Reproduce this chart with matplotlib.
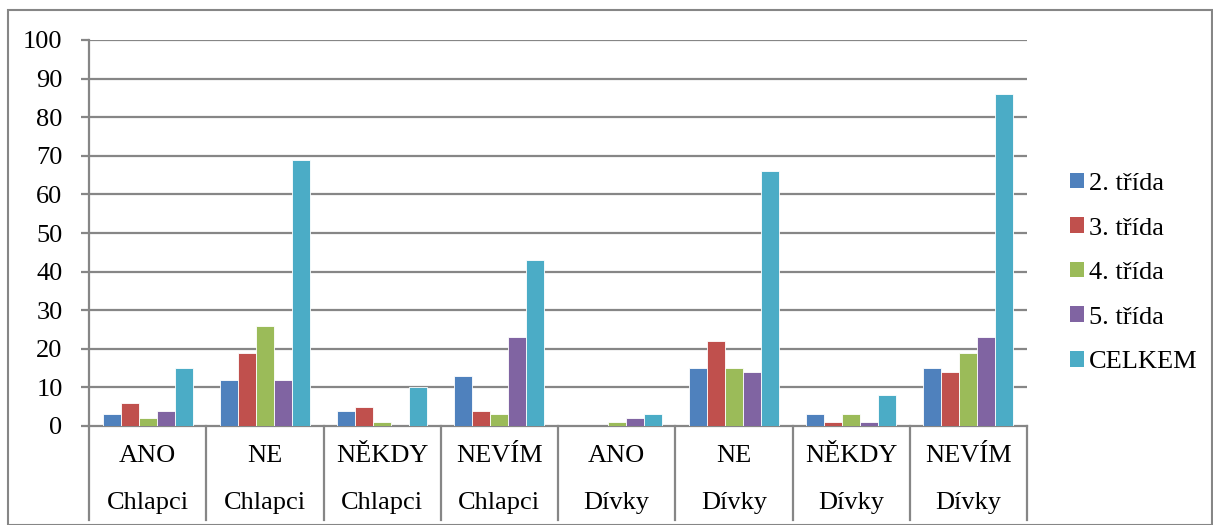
import matplotlib
matplotlib.use("Agg")
import matplotlib.pyplot as plt
from matplotlib.patches import Rectangle, Patch
import matplotlib.transforms as mtransforms

plt.rcParams['font.family'] = ['Liberation Serif', 'DejaVu Serif']

answers = ["ANO", "NE", "NĚKDY", "NEVÍM", "ANO", "NE", "NĚKDY", "NEVÍM"]
groups = ["Chlapci", "Chlapci", "Chlapci", "Chlapci", "Dívky", "Dívky", "Dívky", "Dívky"]
series_names = ["2. třída", "3. třída", "4. třída", "5. třída", "CELKEM"]
trida2 = [3, 12, 4, 13, 0, 15, 3, 15]
trida3 = [6, 19, 5, 4, 0, 22, 1, 14]
trida4 = [2, 26, 1, 3, 1, 15, 3, 19]
trida5 = [4, 12, 0, 23, 2, 14, 1, 23]
celkem = [15, 69, 10, 43, 3, 66, 8, 86]
yticks = list(range(0, 101, 10))

colors = ["#4F81BD", "#C0504D", "#9BBB59", "#8064A2", "#4BACC6"]
series = [trida2, trida3, trida4, trida5, celkem]

FS = 19
W, H = 1213, 525
fig = plt.figure(figsize=(W / 100, H / 100), dpi=100)
ax = fig.add_axes([89 / W, 1 - 426 / H, (1027 - 89) / W, (426 - 40) / H])

n = len(answers)
bw = 1 / 6.5
for i, (vals, c, name) in enumerate(zip(series, colors, series_names)):
    xs = [k + bw * (0.75 + i) for k in range(n)]
    ax.bar(xs, vals, width=bw, align='edge', color=c, edgecolor='white',
           linewidth=0.6, label=name, zorder=3)

grid_c = "#868686"
ax.set_xlim(0, n)
ax.set_ylim(0, 100)
ax.set_yticks(yticks)
ax.set_yticklabels([str(t) for t in yticks], fontsize=FS)
for t in yticks[1:]:
    ax.axhline(t, color=grid_c, lw=1.6, zorder=1)
ax.tick_params(axis='y', length=6, width=1.6, color=grid_c, pad=13)
ax.set_xticks([])
for s in ['top', 'right']:
    ax.spines[s].set_visible(False)
for s in ['left', 'bottom']:
    ax.spines[s].set_color(grid_c)
    ax.spines[s].set_linewidth(1.6)

trans = mtransforms.blended_transform_factory(ax.transData, ax.transAxes)
low = -(520 - 426) / (426 - 40)
for k in range(n + 1):
    ax.plot([k, k], [0, low], transform=trans, color=grid_c, lw=1.6,
            clip_on=False, zorder=2)
for k in range(n):
    ax.text(k + 0.5, -(456 - 426) / 386, answers[k], transform=trans,
            ha='center', va='center', fontsize=FS)
    ax.text(k + 0.5, -(503 - 426) / 386, groups[k], transform=trans,
            ha='center', va='center', fontsize=FS)

handles = [Patch(facecolor=c, edgecolor='none') for c in colors]
leg = fig.legend(handles, series_names, loc='center left',
                 bbox_to_anchor=(1070 / W, 1 - 273 / H), frameon=False,
                 fontsize=FS, handlelength=0.53, handleheight=0.53,
                 handletextpad=0.2, labelspacing=0.85, borderpad=0,
                 borderaxespad=0)

fig.patches.append(Rectangle((8 / W, 0), (W - 9) / W, 1 - 10 / H,
                             transform=fig.transFigure, fill=False,
                             edgecolor=grid_c, lw=1.5))

fig.savefig("out.png", dpi=100)
